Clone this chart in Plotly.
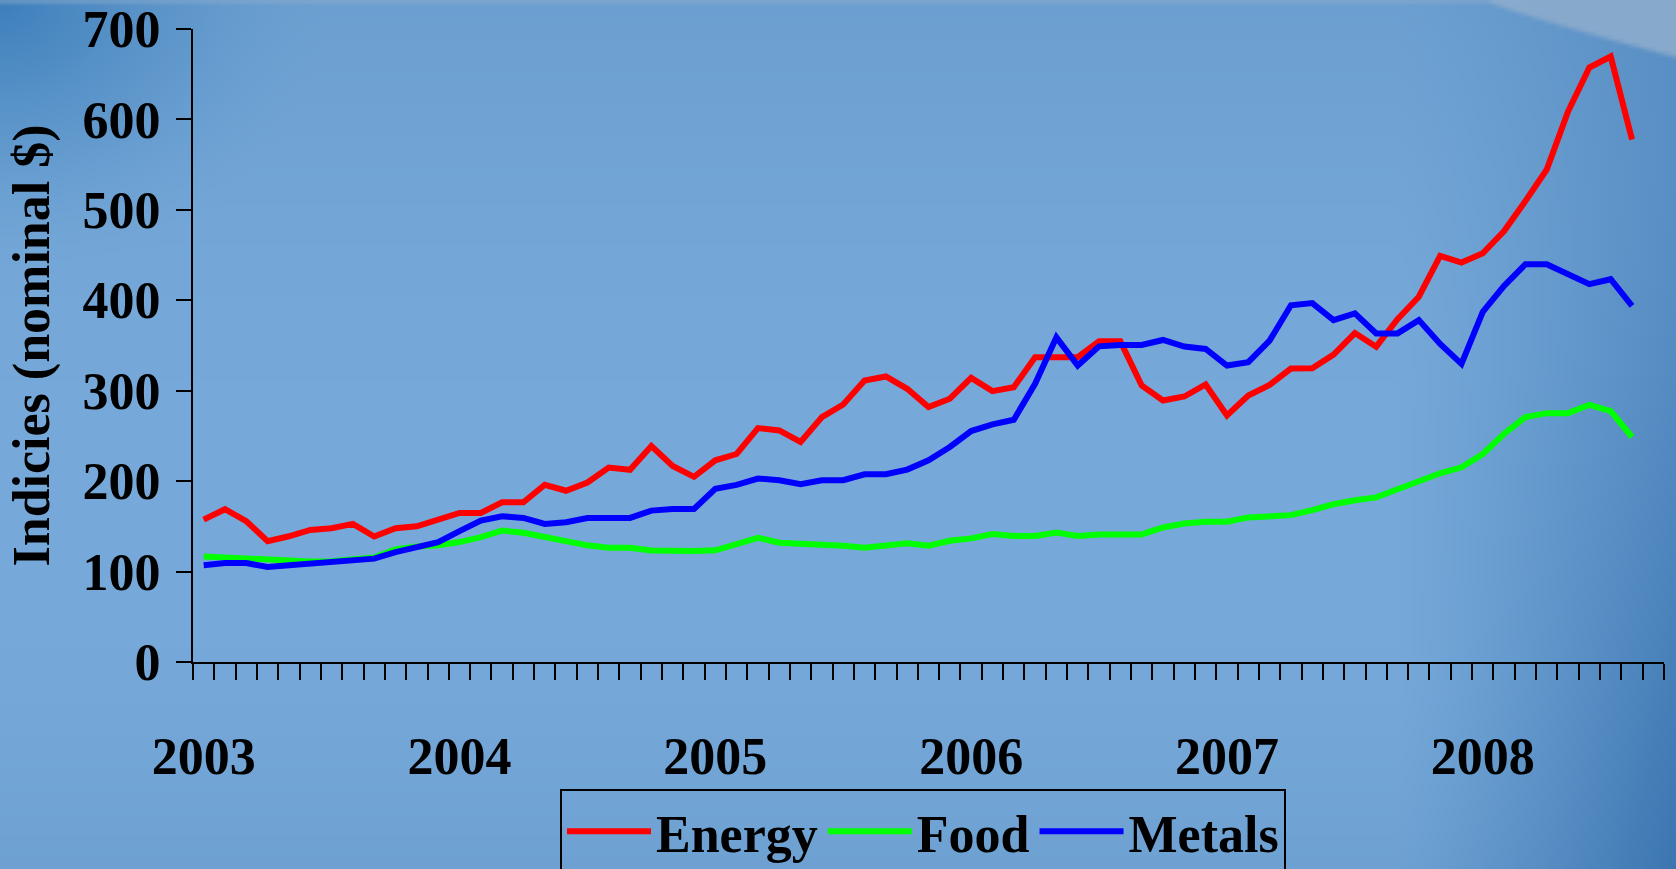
import base64
import struct
import zlib

import numpy as np
import plotly.graph_objects as go

# ---------------- data ----------------
month_names = ["Jan", "Feb", "Mar", "Apr", "May", "Jun",
               "Jul", "Aug", "Sep", "Oct", "Nov", "Dec"]
months = [f"{m} {y}" for y in range(2003, 2009) for m in month_names][:68]
years = ["2003", "2004", "2005", "2006", "2007", "2008"]

energy = [157.5, 169.0, 155.7, 133.7, 139.0, 146.0, 148.0, 152.7, 138.8, 148.0,
          150.0, 158.0, 164.8, 164.8, 176.6, 176.6, 196.0, 189.4, 198.5, 215.0,
          212.5, 238.8, 216.8, 204.8, 223.0, 230.0, 258.7, 256.1, 243.3, 270.8,
          284.8, 311.3, 315.7, 302.1, 281.9, 291.1, 314.2, 299.5, 303.9, 337.0,
          337.0, 337.0, 354.6, 354.6, 305.8, 289.2, 293.6, 306.9, 272.7, 294.7,
          306.5, 324.5, 324.8, 339.9, 363.8, 348.7, 379.2, 403.9, 449.1, 441.7,
          452.0, 476.6, 509.7, 544.6, 608.9, 657.4, 669.6, 577.7]

food = [116.8, 115.4, 115.4, 113.0, 112.5, 111.0, 111.5, 113.0, 115.5, 124.5,
        127.8, 129.0, 132.6, 138.0, 145.4, 142.9, 138.0, 133.3, 129.0, 126.4,
        126.4, 123.4, 122.7, 122.7, 123.5, 130.0, 137.4, 131.9, 131.2, 129.4,
        128.6, 126.4, 129.4, 131.2, 128.6, 134.1, 136.7, 141.5, 139.3, 139.3,
        143.3, 139.3, 141.1, 141.1, 141.1, 148.8, 153.2, 155.1, 155.1, 159.9,
        160.6, 162.4, 167.9, 174.5, 178.9, 182.0, 191.0, 199.5, 208.7, 215.3,
        230.0, 252.4, 270.8, 275.2, 275.2, 284.4, 277.4, 248.8]

metals = [107.0, 109.5, 109.5, 105.0, 107.0, 108.8, 110.6, 113.6, 114.3, 121.6,
          127.0, 132.6, 144.7, 156.4, 161.2, 159.3, 152.7, 154.6, 159.3, 159.3,
          159.3, 167.4, 169.2, 169.2, 191.5, 195.8, 202.9, 201.0, 196.6, 201.0,
          201.0, 207.6, 207.6, 212.8, 223.1, 237.8, 255.4, 262.8, 267.9, 307.6,
          359.0, 327.8, 349.1, 350.6, 350.6, 356.1, 348.8, 346.2, 327.8, 331.5,
          355.4, 394.5, 396.9, 378.1, 385.5, 363.4, 363.4, 378.1, 351.7, 329.6,
          387.3, 416.0, 439.9, 439.9, 428.1, 417.8, 423.3, 393.9]

y_ticks = [0, 100, 200, 300, 400, 500, 600, 700]

# ---------------- background gradient (style only) ----------------
W, H = 1676, 869
ML, MR, MT, MB = 193, 12, 29, 207
PW, PH = W - ML - MR, H - MT - MB

GW, GH = 420, 218
gx = np.repeat(np.linspace(0, W, GW)[None, :], GH, 0)
gy = np.repeat(np.linspace(0, H, GH)[:, None], GW, 1)
img = np.zeros((GH, GW, 3)) + np.array([118.0, 169.0, 217.0])


def blend(im, color, w):
    w = np.clip(w, 0, 1)[..., None]
    return im * (1 - w) + np.array(color, dtype=float) * w


img = blend(img, [100, 152, 202], np.clip(1 - gy / 380, 0, 1) ** 1.5 * 0.55)
img = blend(img, [102, 154, 204], np.clip((gy - 650) / 219, 0, 1) ** 1.5 * 0.5)
img = blend(img, [62, 128, 188], np.clip(1 - np.hypot(gx, gy * 1.2) / 330, 0, 1) ** 1.6)
img = blend(img, [58, 116, 176],
            np.clip((gx - 1400) / 276, 0, 1) ** 1.2 * (0.4 + 0.55 * (gy / H) ** 1.5))
yb = 55 * np.clip((gx - 1490) / 186, 0, None) ** 0.9
img = blend(img, [140, 172, 205], np.clip((yb - gy) / 5 + 0.5, 0, 1) * 0.9)
arr = np.clip(img, 0, 255).astype(np.uint8)


def png_uri(a):
    h, w, _ = a.shape
    raw = b"".join(b"\x00" + a[r].tobytes() for r in range(h))

    def chunk(t, d):
        c = struct.pack(">I", len(d)) + t + d
        return c + struct.pack(">I", zlib.crc32(t + d) & 0xFFFFFFFF)

    png = (b"\x89PNG\r\n\x1a\n"
           + chunk(b"IHDR", struct.pack(">IIBBBBB", w, h, 8, 2, 0, 0, 0))
           + chunk(b"IDAT", zlib.compress(raw, 9))
           + chunk(b"IEND", b""))
    return "data:image/png;base64," + base64.b64encode(png).decode()


# ---------------- figure ----------------
FONT = "Times New Roman, Liberation Serif, serif"
x_idx = list(range(len(months)))
year_pos = [months.index(f"Jan {y}") for y in years]

fig = go.Figure()
for name, vals, color in [("Energy", energy, "#FF0000"),
                          ("Food", food, "#00FF00"),
                          ("Metals", metals, "#0000FF")]:
    fig.add_trace(go.Scatter(
        x=x_idx[:len(vals)], y=vals, mode="lines", name=name,
        line=dict(color=color, width=6),
        customdata=months[:len(vals)],
        hovertemplate="%{customdata}: %{y}<extra>" + name + "</extra>",
    ))

fig.update_layout(
    width=W, height=H,
    margin=dict(l=ML, r=MR, t=MT, b=MB, pad=0, autoexpand=False),
    paper_bgcolor="#74a8d8",
    plot_bgcolor="rgba(0,0,0,0)",
    font=dict(family=FONT, color="black", size=52, weight="bold"),
    images=[dict(source=png_uri(arr), xref="paper", yref="paper",
                 x=-ML / PW, y=1 + MT / PH, sizex=W / PW, sizey=H / PH,
                 xanchor="left", yanchor="top", sizing="stretch",
                 layer="below")],
    xaxis=dict(
        range=[-0.5, len(months) + 0.5],
        tickmode="array", tickvals=year_pos, ticktext=years,
        ticks="", showline=True, linecolor="black", linewidth=2,
        showgrid=False, zeroline=False, automargin=False,
        tickfont=dict(family=FONT, size=52, color="black", weight="bold"),
        ticklabelstandoff=48,
        minor=dict(ticks="outside", ticklen=16, tickwidth=2, tickcolor="black",
                   tick0=-0.5, dtick=1, showgrid=False),
    ),
    yaxis=dict(
        range=[0, 700], tickmode="array", tickvals=y_ticks,
        ticks="outside", ticklen=15, tickwidth=2, tickcolor="black",
        showline=True, linecolor="black", linewidth=2,
        showgrid=False, zeroline=False, automargin=False,
        tickfont=dict(family=FONT, size=52, color="black", weight="bold"),
        ticklabelstandoff=5,
        title=dict(text="Indicies (nominal $)", standoff=16,
                   font=dict(family=FONT, size=52, color="black", weight="bold")),
    ),
    showlegend=True,
    legend=dict(
        orientation="h", x=(560 - ML) / PW, y=(MT + PH - 789) / PH,
        xanchor="left", yanchor="top",
        bgcolor="rgba(0,0,0,0)", bordercolor="black", borderwidth=2,
        font=dict(family=FONT, size=52, color="black", weight="bold"),
        itemwidth=84,
    ),
)

fig.write_html(
    "out.html",
    config={"displayModeBar": False},
    post_script="document.body.style.margin='0';document.body.style.overflow='hidden';",
)
